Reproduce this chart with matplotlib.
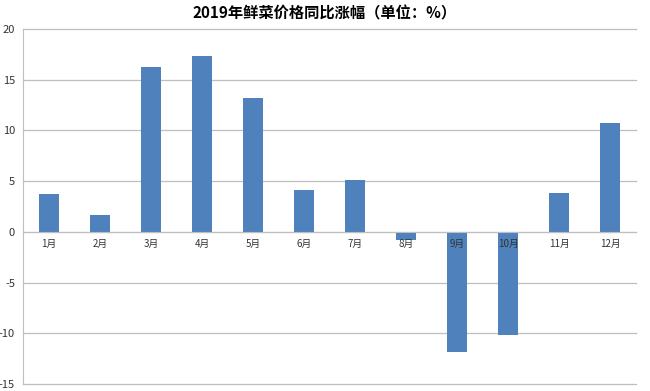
import matplotlib.pyplot as plt
import numpy as np

plt.rcParams['font.family'] = ['Noto Sans CJK SC', 'DejaVu Sans']
plt.rcParams['axes.unicode_minus'] = False

months = ['1月', '2月', '3月', '4月', '5月', '6月', '7月', '8月', '9月', '10月', '11月', '12月']
values = [3.7, 1.7, 16.2, 17.3, 13.2, 4.1, 5.1, -0.8, -11.8, -10.2, 3.8, 10.7]

fig = plt.figure(figsize=(6.5, 3.91), dpi=100)
ax = fig.add_axes([0.036, 0.018, 0.942, 0.908])

x = np.arange(len(months))
ax.bar(x, values, width=0.4, color='#4f81bd', zorder=1)

ax.set_xlim(-0.5, len(months) - 0.5)
ax.set_ylim(-15, 20)
yticks = np.arange(-15, 21, 5)
ax.set_yticks(yticks)
# gridlines behind bars, axis (tick labels) on top
for t in yticks:
    ax.axhline(t, color='#bfbfbf', linewidth=0.9, zorder=0.5, clip_on=False)
ax.set_axisbelow(False)

for s in ['top', 'right']:
    ax.spines[s].set_visible(False)
ax.spines['left'].set_color('#bfbfbf')
ax.spines['bottom'].set_position(('data', 0))
ax.spines['bottom'].set_color('#bfbfbf')

ax.set_xticks(x)
ax.set_xticklabels(months, fontsize=7, color='#333333')
ax.tick_params(axis='x', length=0, pad=5)
ax.tick_params(axis='y', length=0, pad=6, labelsize=8, labelcolor='#333333')

fig.suptitle('2019年鲜菜价格同比涨幅（单位：%）', fontsize=11, fontweight='bold', y=0.985)

plt.savefig('out.png', dpi=100)
